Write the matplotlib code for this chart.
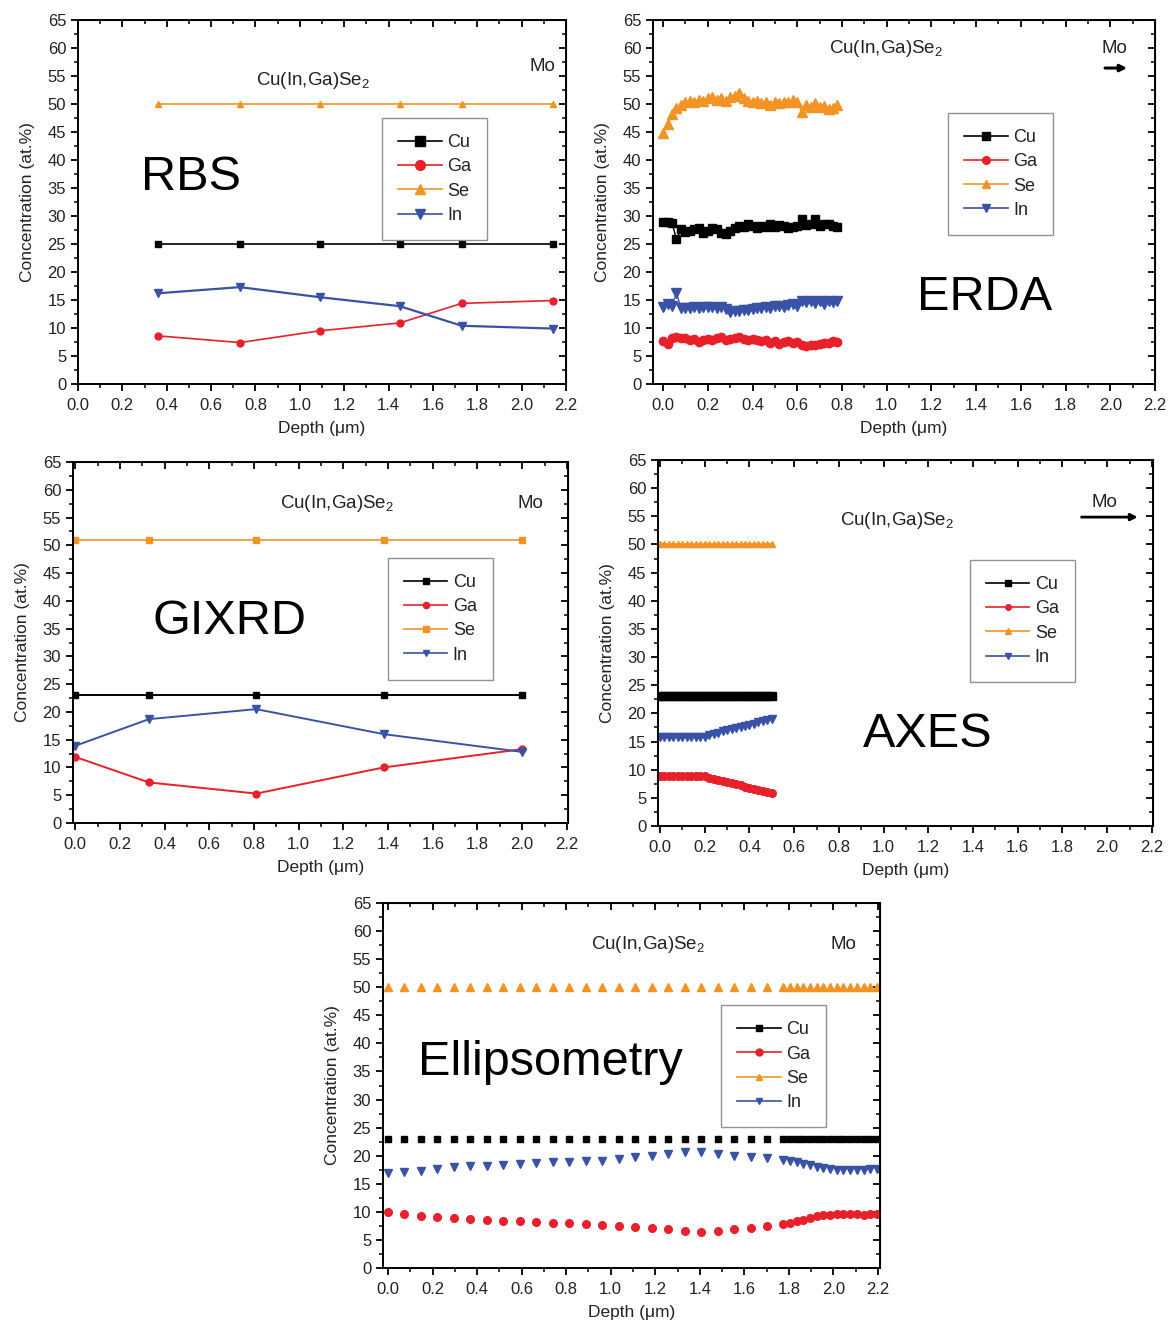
import matplotlib
matplotlib.use("Agg")
import matplotlib.pyplot as plt
from matplotlib.ticker import MultipleLocator
from matplotlib.lines import Line2D

plt.rcParams['font.family'] = ['Liberation Sans', 'DejaVu Sans']
plt.rcParams['mathtext.fontset'] = 'custom'
plt.rcParams['mathtext.rm'] = 'Liberation Sans'
plt.rcParams['mathtext.it'] = 'Liberation Sans'

# ---------------- data ----------------
elements = ["Cu", "Ga", "Se", "In"]

# RBS
rbs_depth = [0.36, 0.73, 1.09, 1.45, 1.73, 2.14]
rbs_cu = [25, 25, 25, 25, 25, 25]
rbs_ga = [8.6, 7.4, 9.5, 10.9, 14.4, 14.9]
rbs_se = [50, 50, 50, 50, 50, 50]
rbs_in = [16.2, 17.3, 15.5, 13.9, 10.4, 9.9]

# ERDA
erda_depth = [0.00, 0.02, 0.04, 0.06, 0.08, 0.10, 0.12, 0.14, 0.16, 0.18,
              0.20, 0.22, 0.24, 0.26, 0.28, 0.30, 0.32, 0.34, 0.36, 0.38,
              0.40, 0.42, 0.44, 0.46, 0.48, 0.50, 0.52, 0.54, 0.56, 0.58,
              0.60, 0.62, 0.64, 0.66, 0.68, 0.70, 0.72, 0.74, 0.76, 0.78]
erda_se = [44.8, 46.5, 48.2, 49.2, 49.9, 50.3, 50.6, 50.4, 50.8, 50.5,
           51.0, 51.2, 50.7, 51.1, 50.6, 51.3, 51.5, 51.9, 51.1, 50.6,
           50.4, 50.5, 50.1, 50.3, 49.9, 50.4, 50.1, 50.4, 50.3, 50.7,
           50.4, 48.6, 49.9, 49.5, 50.1, 49.4, 49.6, 49.1, 49.3, 49.8]
erda_cu = [29.0, 28.9, 28.7, 25.9, 27.6, 27.1, 27.4, 27.6, 27.8, 26.9,
           27.4, 27.9, 27.6, 27.0, 26.7, 27.3, 27.9, 28.3, 28.1, 28.5,
           28.2, 27.8, 28.3, 28.0, 28.5, 28.1, 28.4, 28.2, 27.9, 28.0,
           28.3, 29.4, 28.4, 28.6, 29.4, 28.3, 28.5, 28.6, 28.3, 28.0]
erda_in = [13.8, 14.2, 14.0, 16.2, 13.6, 13.5, 13.6, 13.7, 13.6, 13.8,
           13.7, 13.8, 13.6, 13.7, 13.4, 12.9, 13.1, 13.0, 13.2, 13.3,
           13.4, 13.6, 13.5, 13.8, 13.6, 13.9, 14.0, 13.8, 14.1, 14.2,
           14.0, 14.8, 14.6, 14.9, 14.5, 14.8, 14.3, 14.8, 14.7, 14.8]
erda_ga = [7.6, 7.1, 8.3, 8.4, 8.3, 8.2, 7.9, 8.0, 7.5, 7.9,
           8.1, 7.8, 8.2, 8.4, 7.9, 8.0, 8.3, 8.4, 8.1, 7.8,
           8.0, 7.9, 7.6, 7.8, 7.4, 7.6, 7.2, 7.5, 7.7, 7.3,
           7.5, 7.0, 6.8, 7.0, 6.9, 7.2, 7.3, 7.4, 7.7, 7.5]

# GIXRD
gix_depth = [0.0, 0.33, 0.81, 1.38, 2.0]
gix_cu = [23, 23, 23, 23, 23]
gix_ga = [11.9, 7.3, 5.3, 10.0, 13.3]
gix_se = [51, 51, 51, 51, 51]
gix_in = [13.9, 18.7, 20.5, 16.0, 12.8]

# AXES
axes_depth = [0.00, 0.02, 0.04, 0.06, 0.08, 0.10, 0.12, 0.14, 0.16, 0.18,
              0.20, 0.22, 0.24, 0.26, 0.28, 0.30, 0.32, 0.34, 0.36, 0.38,
              0.40, 0.42, 0.44, 0.46, 0.48, 0.50]
axes_cu = [23.0] * 26
axes_se = [50.0] * 26
axes_ga = [8.9, 8.9, 8.9, 8.9, 8.9, 8.9, 8.9, 8.9, 8.9, 8.9,
           8.9, 8.6, 8.4, 8.2, 8.0, 7.8, 7.6, 7.4, 7.2, 7.0,
           6.8, 6.6, 6.4, 6.2, 6.0, 5.8]
axes_in = [15.8, 15.8, 15.8, 15.8, 15.8, 15.8, 15.8, 15.8, 15.8, 15.8,
           15.8, 16.1, 16.3, 16.6, 16.8, 17.0, 17.2, 17.4, 17.6, 17.8,
           18.0, 18.2, 18.4, 18.6, 18.8, 19.0]

# Ellipsometry
ell_depth = [0.0, 0.074, 0.148, 0.222, 0.296, 0.37, 0.444, 0.518, 0.592, 0.666,
             0.74, 0.814, 0.888, 0.962, 1.036, 1.11, 1.184, 1.258, 1.332, 1.406,
             1.48, 1.554, 1.628, 1.702,
             1.775, 1.805, 1.835, 1.865, 1.895, 1.925, 1.955, 1.985, 2.015, 2.045,
             2.075, 2.105, 2.135, 2.165, 2.195]
ell_cu = [23.0] * 39
ell_se = [50.0] * 39
ell_in = [17.0, 17.1, 17.3, 17.6, 17.9, 18.1, 18.2, 18.3, 18.6, 18.7,
          18.8, 18.9, 19.0, 19.1, 19.4, 19.7, 19.9, 20.3, 20.6, 20.6,
          20.3, 20.0, 19.8, 19.6,
          19.3, 19.1, 18.9, 18.6, 18.3, 18.0, 17.8, 17.6, 17.5, 17.5,
          17.5, 17.5, 17.5, 17.6, 17.6]
ell_ga = [9.9, 9.6, 9.3, 9.1, 8.9, 8.7, 8.5, 8.4, 8.3, 8.2,
          8.1, 8.0, 7.9, 7.7, 7.5, 7.3, 7.1, 6.9, 6.6, 6.5,
          6.6, 6.9, 7.2, 7.4,
          7.8, 8.0, 8.3, 8.6, 8.9, 9.2, 9.4, 9.5, 9.6, 9.6,
          9.6, 9.6, 9.5, 9.6, 9.6]

# ---------------- style ----------------
C_CU = "#000000"
C_GA = "#e8202a"
C_SE = "#f39323"
C_IN = "#3a52a6"
TXT = "#222222"

fig = plt.figure(figsize=(11.7, 13.24), dpi=100)
W, H = 1170.0, 1324.0


def make_ax(left, right, top, bottom, xlim):
    ax = fig.add_axes([left / W, 1 - bottom / H, (right - left) / W, (bottom - top) / H])
    ax.set_xlim(*xlim)
    ax.set_ylim(0, 65)
    ax.xaxis.set_major_locator(MultipleLocator(0.2))
    ax.xaxis.set_minor_locator(MultipleLocator(0.1))
    ax.yaxis.set_major_locator(MultipleLocator(5))
    ax.yaxis.set_minor_locator(MultipleLocator(2.5))
    ax.xaxis.set_major_formatter(plt.FuncFormatter(lambda v, p: f"{v:.1f}"))
    ax.tick_params(which='major', direction='out', length=5, width=1.3,
                   labelsize=12, labelcolor=TXT)
    ax.tick_params(axis='x', which='major', pad=5)
    ax.tick_params(which='minor', direction='out', length=3, width=1.1)
    for s in ax.spines.values():
        s.set_linewidth(1.4)
    sx = ax.secondary_xaxis('top')
    sx.xaxis.set_major_locator(MultipleLocator(0.2))
    sx.xaxis.set_minor_locator(MultipleLocator(0.1))
    sx.tick_params(which='major', direction='in', length=5, width=1.3, labeltop=False)
    sx.tick_params(which='minor', direction='in', length=3, width=1.1)
    sy = ax.secondary_yaxis('right')
    sy.yaxis.set_major_locator(MultipleLocator(5))
    sy.yaxis.set_minor_locator(MultipleLocator(2.5))
    sy.tick_params(which='major', direction='in', length=5, width=1.3, labelright=False)
    sy.tick_params(which='minor', direction='in', length=3, width=1.1)
    ax.set_xlabel("Depth (\u03bcm)", fontsize=12.5, color=TXT, labelpad=6)
    ax.set_ylabel("Concentration (at.%)", fontsize=12.5, color=TXT, labelpad=9)
    return ax


def add_legend(ax, x, y, markers, ms, lw=1.2):
    handles = [
        Line2D([], [], color=C_CU, marker=markers[0], ms=ms, lw=lw),
        Line2D([], [], color=C_GA, marker=markers[1], ms=ms, lw=lw),
        Line2D([], [], color=C_SE, marker=markers[2], ms=ms, lw=lw),
        Line2D([], [], color=C_IN, marker=markers[3], ms=ms, lw=lw),
    ]
    leg = ax.legend(handles, elements, loc='upper left', bbox_to_anchor=(x, y),
                    fontsize=13, frameon=True, fancybox=False, edgecolor='#777777',
                    handlelength=2.4, handletextpad=0.3, labelspacing=0.4,
                    borderpad=0.9, borderaxespad=0)
    leg.get_frame().set_linewidth(1.0)
    for t in leg.get_texts():
        t.set_color(TXT)


def labels(ax, name, nx, ny, cx, cy, mx, my):
    ax.text(nx, ny, name, transform=ax.transAxes, fontsize=35, ha='center', va='center')
    ax.text(cx, cy, r"Cu(In,Ga)Se$_2$", transform=ax.transAxes, fontsize=13.5,
            ha='center', va='center', color=TXT)
    ax.text(mx, my, "Mo", transform=ax.transAxes, fontsize=13.5, ha='center',
            va='center', color=TXT)


# ---- RBS ----
ax = make_ax(78, 566, 20, 384, (0, 2.2))
ax.plot(rbs_depth, rbs_cu, color=C_CU, marker='s', ms=4.5, lw=1.2)
ax.plot(rbs_depth, rbs_ga, color=C_GA, marker='o', ms=5, lw=1.2)
ax.plot(rbs_depth, rbs_se, color=C_SE, marker='^', ms=5, lw=1.2)
ax.plot(rbs_depth, rbs_in, color=C_IN, marker='v', ms=6, lw=1.6)
add_legend(ax, 0.623, 0.731, ['s', 'o', '^', 'v'], 7)
labels(ax, "RBS", 0.232, 0.566, 0.482, 0.835, 0.951, 0.871)

# ---- ERDA ----
ax = make_ax(653, 1155, 20, 384, (-0.045, 2.2))
ax.plot(erda_depth, erda_se, color=C_SE, marker='^', ms=6.5, lw=1.0)
ax.plot(erda_depth, erda_cu, color=C_CU, marker='s', ms=6, lw=1.0)
ax.plot(erda_depth, erda_in, color=C_IN, marker='v', ms=6.5, lw=1.0)
ax.plot(erda_depth, erda_ga, color=C_GA, marker='o', ms=6, lw=1.0)
add_legend(ax, 0.588, 0.745, ['s', 'o', '^', 'v'], 5.5)
labels(ax, "ERDA", 0.661, 0.239, 0.464, 0.923, 0.920, 0.923)
ax.annotate("", xy=(0.95, 0.868), xytext=(0.895, 0.868), xycoords='axes fraction',
            arrowprops=dict(arrowstyle='-|>', lw=2.2, color='k', mutation_scale=10))

# ---- GIXRD ----
ax = make_ax(73, 568, 462, 823, (-0.01, 2.205))
ax.plot(gix_depth, gix_cu, color=C_CU, marker='s', ms=4.5, lw=1.4)
ax.plot(gix_depth, gix_ga, color=C_GA, marker='o', ms=5, lw=1.4)
ax.plot(gix_depth, gix_se, color=C_SE, marker='s', ms=4.5, lw=1.2)
ax.plot(gix_depth, gix_in, color=C_IN, marker='v', ms=5.5, lw=1.4)
add_legend(ax, 0.636, 0.735, ['s', 'o', 's', 'v'], 4.5)
labels(ax, "GIXRD", 0.317, 0.557, 0.533, 0.886, 0.925, 0.886)

# ---- AXES ----
ax = make_ax(658, 1153, 460, 826, (-0.009, 2.205))
ax.plot(axes_depth, axes_se, color=C_SE, marker='^', ms=5, lw=1.2)
ax.plot(axes_depth, axes_cu, color=C_CU, marker='s', ms=5.5, lw=1.5)
ax.plot(axes_depth, axes_in, color=C_IN, marker='v', ms=5.5, lw=1.5)
ax.plot(axes_depth, axes_ga, color=C_GA, marker='o', ms=5.5, lw=1.5)
add_legend(ax, 0.63, 0.727, ['s', 'o', '^', 'v'], 4)
labels(ax, "AXES", 0.545, 0.249, 0.483, 0.836, 0.901, 0.885)
ax.annotate("", xy=(0.975, 0.844), xytext=(0.85, 0.844), xycoords='axes fraction',
            arrowprops=dict(arrowstyle='-|>', lw=2.0, color='k', mutation_scale=10))

# ---- Ellipsometry ----
ax = make_ax(383, 880, 903, 1268, (-0.0225, 2.209))
ax.plot(ell_depth, ell_se, color=C_SE, marker='^', ms=5.5, ls='none')
ax.plot(ell_depth, ell_cu, color=C_CU, marker='s', ms=5, ls='none')
ax.plot(ell_depth, ell_in, color=C_IN, marker='v', ms=6, ls='none')
ax.plot(ell_depth, ell_ga, color=C_GA, marker='o', ms=5.5, ls='none')
add_legend(ax, 0.68, 0.72, ['s', 'o', '^', 'v'], 5)
labels(ax, "Ellipsometry", 0.336, 0.562, 0.533, 0.885, 0.926, 0.885)

fig.savefig("out.png", dpi=100)
